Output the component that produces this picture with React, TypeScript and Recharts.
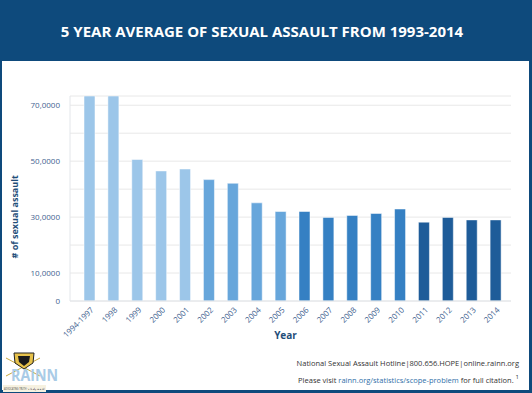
import React from "react";
import { BarChart, Bar, XAxis, YAxis, CartesianGrid, Cell } from "recharts";

const categories = [
  "1994-1997", "1998", "1999", "2000", "2001", "2002", "2003", "2004", "2005",
  "2006", "2007", "2008", "2009", "2010", "2011", "2012", "2013", "2014",
];
const assaults = [
  73300, 73300, 50600, 46500, 47200, 43400, 42100, 35100, 32000,
  32000, 29900, 30600, 31300, 32900, 28200, 29900, 29000, 29000,
];
const yTicks = [0, 10000, 20000, 30000, 40000, 50000, 60000, 70000];
const yTickLabels = ["0", "10,0000", "", "30,0000", "", "50,0000", "", "70,0000"];

const palette = ["#9cc6e9", "#67a6db", "#3580c3", "#1e5c99"];
const colorIndex = [0, 0, 0, 0, 0, 1, 1, 1, 1, 2, 2, 2, 2, 2, 3, 3, 3, 3];

const data = categories.map((c, i) => ({ year: c, value: assaults[i] }));

const FONT = "'Open Sans', 'Noto Sans', sans-serif";

const XTick = (props: any) => {
  const { x, y, payload } = props;
  return (
    <g transform={`translate(${x},${y})`}>
      <text
        x={2}
        y={4}
        textAnchor="end"
        fontSize={8}
        fill="#3f6390"
        fontFamily={FONT}
        transform="rotate(-45)"
      >
        {payload.value}
      </text>
    </g>
  );
};

const YTick = (props: any) => {
  const { x, y, payload } = props;
  const idx = yTicks.indexOf(payload.value);
  const label = idx >= 0 ? yTickLabels[idx] : "";
  return (
    <text x={x - 2} y={y} dy={3} textAnchor="end" fontSize={8} fill="#3f6390" fontFamily={FONT}>
      {label}
    </text>
  );
};

export default function App() {
  return (
    <div
      style={{
        position: "absolute",
        left: 0,
        top: 0,
        width: 532,
        height: 393,
        background: "#0e4a7c",
        fontFamily: FONT,
        overflow: "hidden",
      }}
    >
      <div
        style={{
          position: "absolute",
          left: 0,
          top: 0,
          width: 532,
          height: 61,
          display: "flex",
          alignItems: "center",
          justifyContent: "center",
          color: "#ffffff",
          fontWeight: 700,
          fontSize: 15,
        }}
      >
        <span style={{ marginLeft: -8 }}>5 YEAR AVERAGE OF SEXUAL ASSAULT FROM 1993-2014</span>
      </div>
      <div
        style={{
          position: "absolute",
          left: 2,
          top: 61,
          width: 527,
          height: 329,
          background: "#ffffff",
        }}
      />
      <div style={{ position: "absolute", left: 0, top: 0 }}>
        <BarChart
          width={532}
          height={393}
          data={data}
          margin={{ top: 96, right: 21, left: 0, bottom: 32 }}
          barSize={11}
        >
          <CartesianGrid vertical={false} stroke="#e8e8e8" strokeWidth={1} />
          <XAxis
            dataKey="year"
            height={60}
            interval={0}
            tick={<XTick />}
            tickLine={false}
            axisLine={{ stroke: "#e3e6ea" }}
            padding={{ left: 8, right: 3 }}
            label={{
              value: "Year",
              position: "insideTop",
              offset: 31,
              dx: -5,
              fill: "#1f4e79",
              fontSize: 10,
              fontWeight: 700,
              fontFamily: FONT,
            }}
          />
          <YAxis
            width={70}
            domain={[0, 73300]}
            ticks={yTicks}
            allowDataOverflow
            tick={<YTick />}
            tickLine={false}
            axisLine={{ stroke: "#e3e6ea" }}
            label={{
              value: "# of sexual assault",
              angle: -90,
              position: "insideLeft",
              offset: 15,
              dy: 60,
              fill: "#1f4e79",
              fontSize: 9,
              fontWeight: 700,
              fontFamily: FONT,
            }}
          />
          <Bar dataKey="value" isAnimationActive={false} stroke="#ffffff" strokeOpacity={0.5} strokeWidth={1}>
            {data.map((d, i) => (
              <Cell key={d.year} fill={palette[colorIndex[i]]} />
            ))}
          </Bar>
        </BarChart>
      </div>
      <div
        style={{
          position: "absolute",
          left: 240,
          top: 356,
          width: 279,
          textAlign: "right",
          fontSize: 7.5,
          lineHeight: "14px",
          color: "#333333",
        }}
      >
        <div>National Sexual Assault Hotline|800.656.HOPE|online.rainn.org</div>
        <div>
          Please visit <span style={{ color: "#2f6fa8" }}>rainn.org/statistics/scope-problem</span> for full
          citation. <sup style={{ fontSize: 6 }}>1</sup>
        </div>
      </div>
      <svg style={{ position: "absolute", left: 2, top: 352 }} width={62} height={40}>
        <line x1={4} y1={6} x2={38} y2={24} stroke="#c9a93c" strokeWidth={1} />
        <line x1={38} y1={6} x2={4} y2={24} stroke="#c9a93c" strokeWidth={1} />
        <polygon points="12,1 32,1 31,11 22,17 13,11" fill="#e6c14a" stroke="#222" strokeWidth={1} />
        <polygon points="16,4 28,4 27,10 22,14 17,10" fill="#1a1a1a" />
        <text
          x={9}
          y={29}
          fontSize={16}
          fontWeight={700}
          fill="#a9cbe6"
          fontFamily={FONT}
          textLength={47}
          lengthAdjust="spacingAndGlyphs"
        >
          RAINN
        </text>
        <rect x={1} y={33} width={43} height={7} fill="#f6f1e0" />
        <text
          x={2}
          y={38}
          fontSize={3}
          fill="#444"
          fontFamily={FONT}
          textLength={41}
          lengthAdjust="spacingAndGlyphs"
        >
          ADVOCATING TRUTH · الحقيقة والعدالة
        </text>
      </svg>
    </div>
  );
}
